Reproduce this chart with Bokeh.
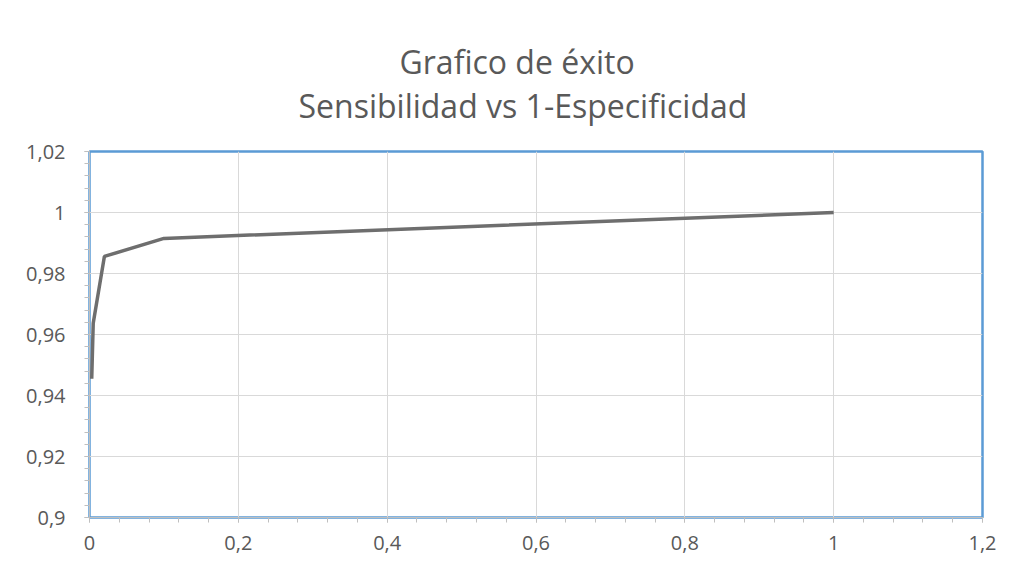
from bokeh.plotting import figure
from bokeh.models import Range1d, FixedTicker, CustomJSTickFormatter, Title, ColumnDataSource
from bokeh.embed import file_html
from bokeh.resources import INLINE

# Data (1 - especificidad, sensibilidad)
fpr = [0.003, 0.005, 0.02, 0.1, 1.0]
sens = [0.9455, 0.9637, 0.9856, 0.9915, 1.0]

x_ticks = [0, 0.2, 0.4, 0.6, 0.8, 1.0, 1.2]
y_ticks = [0.9, 0.92, 0.94, 0.96, 0.98, 1.0, 1.02]
title_lines = ["Grafico de éxito", "Sensibilidad vs 1-Especificidad"]

W, H = 999, 563
p = figure(width=W, height=H, output_backend="svg", toolbar_location=None,
           x_range=Range1d(0, 1.2), y_range=Range1d(0.9, 1.02),
           min_border_left=89, min_border_right=17, min_border_top=151, min_border_bottom=46)

src = ColumnDataSource(dict(x=fpr, y=sens))
p.line("x", "y", source=src, line_color="#6e6e6e", line_width=3.5)

for ax in (p.xaxis, p.yaxis):
    ax.axis_line_color = "#bfbfbf"
    ax.axis_line_width = 1
    ax.major_tick_line_color = "#bfbfbf"
    ax.minor_tick_line_color = "#bfbfbf"
    ax.major_tick_out = 5
    ax.major_tick_in = 0
    ax.minor_tick_out = 5
    ax.minor_tick_in = 0
    ax.major_label_text_font = "Open Sans"
    ax.major_label_text_font_size = "20px"
    ax.major_label_text_color = "#595959"

p.xaxis.ticker = FixedTicker(ticks=x_ticks, minor_ticks=[i * 0.04 for i in range(31)])
p.yaxis.ticker = FixedTicker(ticks=y_ticks, minor_ticks=[0.9 + i * 0.004 for i in range(31)])
p.xaxis.formatter = CustomJSTickFormatter(code="return (Math.round(tick*10)/10).toString().replace('.', ',');")
p.yaxis.formatter = CustomJSTickFormatter(code="return (Math.round(tick*100)/100).toString().replace('.', ',');")
p.xaxis.major_label_standoff = 13
p.yaxis.major_label_standoff = 19

p.xgrid.grid_line_color = "#d9d9d9"
p.ygrid.grid_line_color = "#d9d9d9"
p.xgrid.ticker = p.xaxis.ticker
p.ygrid.ticker = p.yaxis.ticker

p.outline_line_color = "#5b9bd5"
p.outline_line_width = 2.5

# inner line first (closest to the frame), then the outer line
t2 = Title(text=title_lines[1], align="left", offset=209, standoff=50,
           text_font="Open Sans", text_font_size="32px", text_font_style="normal",
           text_color="#595959")
t1 = Title(text=title_lines[0], align="left", offset=310, standoff=-53,
           text_font="Open Sans", text_font_size="32px", text_font_style="normal",
           text_color="#595959")
p.add_layout(t2, "above")
p.add_layout(t1, "above")

open("out.html", "w").write(file_html(p, INLINE))
